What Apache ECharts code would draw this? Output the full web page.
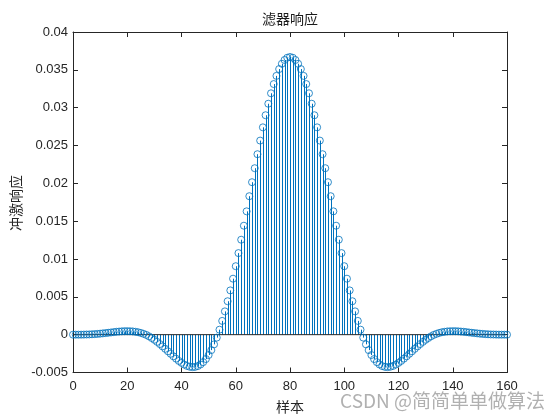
<!DOCTYPE html>
<html><head><meta charset="utf-8">
<script src="https://cdn.jsdelivr.net/npm/echarts@6/dist/echarts.min.js"></script>
<style>html,body{margin:0;padding:0;background:#fff}#c{width:560px;height:420px}</style>
</head><body><div id="c"></div>
<script>
const titleText = '滤器响应';
const xLabel = '样本';
const yLabel = '冲激响应';
const watermark = 'CSDN @简简单单做算法';
const xTicks = [0, 20, 40, 60, 80, 100, 120, 140, 160];
const yTicks = [-0.005, 0, 0.005, 0.01, 0.015, 0.02, 0.025, 0.03, 0.035, 0.04];
const response = [
  0, 0, 0, 0, 0.00001, 0.00002, 0.00003, 0.00005, 0.00007, 0.00010,
  0.00013, 0.00017, 0.00021, 0.00025, 0.00029, 0.00034, 0.00038, 0.00041, 0.00044, 0.00046,
  0.00046, 0.00045, 0.00043, 0.00038, 0.00032, 0.00023, 0.00011, -0.00003, -0.00022, -0.00044,
  -0.00068, -0.00095, -0.00124, -0.00155, -0.00187, -0.00220, -0.00253, -0.00286, -0.00317, -0.00347,
  -0.00373, -0.00395, -0.00413, -0.00424, -0.00429, -0.00426, -0.00415, -0.00394, -0.00363, -0.00322,
  -0.00269, -0.00204, -0.00128, -0.00039, 0.00066, 0.00182, 0.00308, 0.00442, 0.00585, 0.00740,
  0.00905, 0.01078, 0.01255, 0.01440, 0.01630, 0.01830, 0.02015, 0.02200, 0.02385, 0.02565,
  0.02740, 0.02900, 0.03052, 0.03190, 0.03312, 0.03420, 0.03510, 0.03580, 0.03630, 0.03660,
  0.03670,
  0.03660, 0.03630, 0.03580, 0.03510, 0.03420, 0.03312, 0.03190, 0.03052, 0.02900, 0.02740,
  0.02565, 0.02385, 0.02200, 0.02015, 0.01830, 0.01630, 0.01440, 0.01255, 0.01078, 0.00905,
  0.00740, 0.00585, 0.00442, 0.00308, 0.00182, 0.00066, -0.00039, -0.00128, -0.00204, -0.00269,
  -0.00322, -0.00363, -0.00394, -0.00415, -0.00426, -0.00429, -0.00424, -0.00413, -0.00395, -0.00373,
  -0.00347, -0.00317, -0.00286, -0.00253, -0.00220, -0.00187, -0.00155, -0.00124, -0.00095, -0.00068,
  -0.00044, -0.00022, -0.00003, 0.00011, 0.00023, 0.00032, 0.00038, 0.00043, 0.00045, 0.00046,
  0.00046, 0.00044, 0.00041, 0.00038, 0.00034, 0.00029, 0.00025, 0.00021, 0.00017, 0.00013,
  0.00010, 0.00007, 0.00005, 0.00003, 0.00002, 0.00001, 0, 0, 0, 0
];

const pts = response.map((v, i) => [i, v]);
const axisColor = '#262626';
const stemColor = '#0072BD';
const fmtY = v => String(parseFloat(Number(v).toFixed(4)));
const xMin = xTicks[0], xMax = xTicks[xTicks.length - 1], xInt = xTicks[1] - xTicks[0];
const yMin = yTicks[0], yMax = yTicks[yTicks.length - 1], yInt = 0.005;

const chart = echarts.init(document.getElementById('c'), null, {renderer: 'canvas'});
const baseX = {
  type: 'value', min: xMin, max: xMax, interval: xInt,
  axisLine: {show: true, onZero: false, lineStyle: {color: axisColor, width: 1}},
  axisTick: {show: true, inside: true, length: 5, lineStyle: {color: axisColor}},
  splitLine: {show: false}
};
const baseY = {
  type: 'value', min: yMin, max: yMax, interval: yInt,
  axisLine: {show: true, onZero: false, lineStyle: {color: axisColor, width: 1}},
  axisTick: {show: true, inside: true, length: 5, lineStyle: {color: axisColor}},
  splitLine: {show: false}
};
function renderStem(params, api) {
  const top = api.coord([api.value(0), api.value(1)]);
  const base = api.coord([api.value(0), 0]);
  const x = Math.round(top[0]) + 0.5;
  return {
    type: 'line',
    shape: {x1: x, y1: base[1], x2: x, y2: top[1]},
    style: {stroke: stemColor, lineWidth: 1}
  };
}
chart.setOption({
  animation: false,
  backgroundColor: '#fff',
  grid: {left: 73, right: 53, top: 32, bottom: 47.5, containLabel: false},
  xAxis: [
    Object.assign({}, baseX, {position: 'bottom',
      axisLabel: {show: true, color: axisColor, fontSize: 13, fontFamily: 'Liberation Sans, Arial, sans-serif', margin: 7}}),
    Object.assign({}, baseX, {position: 'top', axisLabel: {show: false}})
  ],
  yAxis: [
    Object.assign({}, baseY, {position: 'left',
      axisLabel: {show: true, color: axisColor, fontSize: 13, fontFamily: 'Liberation Sans, Arial, sans-serif', margin: 5, formatter: fmtY}}),
    Object.assign({}, baseY, {position: 'right', axisLabel: {show: false}})
  ],
  series: [
    {
      type: 'custom', xAxisIndex: 0, yAxisIndex: 0, data: pts, renderItem: renderStem,
      encode: {x: 0, y: 1}, silent: true, z: 2
    },
    {
      type: 'line', xAxisIndex: 0, yAxisIndex: 0, data: [[xMin, 0], [xMax, 0]],
      symbol: 'none', lineStyle: {color: axisColor, width: 1}, silent: true, z: 3
    },
    {
      type: 'scatter', xAxisIndex: 0, yAxisIndex: 0, data: pts, symbol: 'circle', symbolSize: 7,
      itemStyle: {color: 'rgba(0,0,0,0)', borderColor: stemColor, borderWidth: 1}, silent: true, z: 4
    }
  ],
  graphic: [
    {type: 'text', x: 290, y: 19, z: 10,
      style: {text: titleText, fill: '#1a1a1a', fontSize: 14, fontFamily: 'Noto Sans CJK SC', textAlign: 'center', textVerticalAlign: 'middle'}},
    {type: 'text', x: 290, y: 407, z: 10,
      style: {text: xLabel, fill: '#262626', fontSize: 14, fontFamily: 'Noto Sans CJK SC', textAlign: 'center', textVerticalAlign: 'middle'}},
    {type: 'text', x: 16, y: 203, rotation: Math.PI / 2, z: 10,
      style: {text: yLabel, fill: '#262626', fontSize: 14, fontFamily: 'Noto Sans CJK SC', textAlign: 'center', textVerticalAlign: 'middle'}},
    {type: 'text', x: 545, y: 401, z: 20,
      style: {text: watermark, fill: 'rgba(150,150,150,0.75)', fontSize: 19, fontFamily: 'Noto Sans CJK SC', textAlign: 'right', textVerticalAlign: 'middle'}}
  ]
});
</script>
</body></html>
